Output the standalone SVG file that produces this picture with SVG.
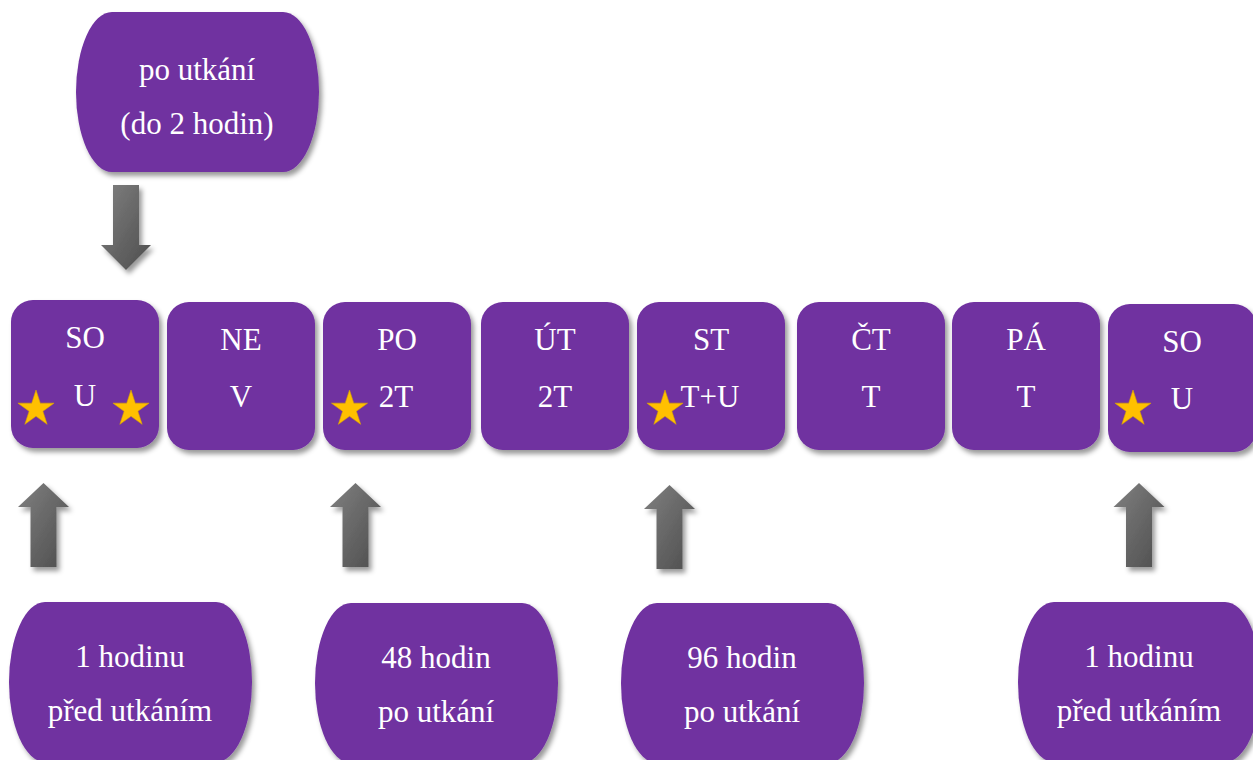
<svg xmlns="http://www.w3.org/2000/svg" xmlns:xlink="http://www.w3.org/1999/xlink" width="1253" height="760" viewBox="0 0 1253 760">
  <defs>
    <filter id="shadow" x="-20%" y="-20%" width="150%" height="150%">
      <feDropShadow dx="3" dy="4" stdDeviation="2.5" flood-color="#000" flood-opacity="0.4"/>
    </filter>
    <linearGradient id="arrowGrad" x1="0" y1="0" x2="1" y2="1">
      <stop offset="0" stop-color="#808080"/>
      <stop offset="1" stop-color="#4d4d4d"/>
    </linearGradient>
    <path id="star" d="M0,-19 L4.27,-5.87 L18.07,-5.87 L6.9,2.24 L11.17,15.37 L0,7.26 L-11.17,15.37 L-6.9,2.24 L-18.07,-5.87 L-4.27,-5.87 Z"/>
    <path id="pill" d="M36,0 H207 A36,80 0 0 1 207,160 H36 A36,80 0 0 1 36,0 Z"/>
    <path id="upArrow" d="M0,0 L25.5,24 L13,24 L13,84 L-13,84 L-13,24 L-25.5,24 Z"/>
  </defs>
  <style>
    .box { fill: #7030A0; filter: url(#shadow); }
    .txt { font-family: 'Liberation Serif', 'DejaVu Serif', serif; font-size: 31px; fill: #ffffff; text-anchor: middle; }
    .star { fill: #FFC000; stroke: #D9A300; stroke-width: 0.6; }
    .arrow { fill: url(#arrowGrad); filter: url(#shadow); }
  </style>

  <g id="connectors">
    <path class="arrow" d="M113,185 H139 V245 H151 L126,270 L101,245 H113 Z"/>
    <use href="#upArrow" class="arrow" x="43.5" y="483"/>
    <use href="#upArrow" class="arrow" x="355.5" y="483"/>
    <use href="#upArrow" class="arrow" x="669.5" y="485"/>
    <use href="#upArrow" class="arrow" x="1139" y="483"/>
  </g>

  <g id="note-top">
    <use href="#pill" class="box" x="76" y="12"/>
    <text class="txt" x="197" y="80">po utkání</text>
    <text class="txt" x="197" y="134">(do 2 hodin)</text>
  </g>

  <g id="day-so1">
    <rect class="box" x="11" y="300" width="148" height="148" rx="22"/>
    <text class="txt" x="85" y="348">SO</text>
    <text class="txt" x="85" y="406">U</text>
    <use href="#star" class="star" x="36" y="409"/>
    <use href="#star" class="star" x="131" y="409"/>
  </g>
  <g id="day-ne">
    <rect class="box" x="167" y="302" width="148" height="148" rx="22"/>
    <text class="txt" x="241" y="350">NE</text>
    <text class="txt" x="241" y="407">V</text>
  </g>
  <g id="day-po">
    <rect class="box" x="323" y="302" width="148" height="148" rx="22"/>
    <text class="txt" x="397" y="350">PO</text>
    <text class="txt" x="396" y="407">2T</text>
    <use href="#star" class="star" x="349.5" y="409"/>
  </g>
  <g id="day-ut">
    <rect class="box" x="481" y="302" width="148" height="148" rx="22"/>
    <text class="txt" x="555" y="350">ÚT</text>
    <text class="txt" x="555" y="407">2T</text>
  </g>
  <g id="day-st">
    <rect class="box" x="637" y="302" width="148" height="148" rx="22"/>
    <text class="txt" x="711" y="350">ST</text>
    <text class="txt" x="710" y="407">T+U</text>
    <use href="#star" class="star" x="665" y="409"/>
  </g>
  <g id="day-ct">
    <rect class="box" x="797" y="302" width="148" height="148" rx="22"/>
    <text class="txt" x="871" y="350">ČT</text>
    <text class="txt" x="871" y="407">T</text>
  </g>
  <g id="day-pa">
    <rect class="box" x="952" y="302" width="148" height="148" rx="22"/>
    <text class="txt" x="1026" y="350">PÁ</text>
    <text class="txt" x="1026" y="407">T</text>
  </g>
  <g id="day-so2">
    <rect class="box" x="1108" y="304" width="148" height="148" rx="22"/>
    <text class="txt" x="1182" y="352">SO</text>
    <text class="txt" x="1182" y="409">U</text>
    <use href="#star" class="star" x="1133" y="409"/>
  </g>

  <g id="note-1h-a">
    <use href="#pill" class="box" x="9" y="602"/>
    <text class="txt" x="130" y="667">1 hodinu</text>
    <text class="txt" x="130" y="721">před utkáním</text>
  </g>
  <g id="note-48h">
    <use href="#pill" class="box" x="315" y="603"/>
    <text class="txt" x="436" y="668">48 hodin</text>
    <text class="txt" x="436" y="722">po utkání</text>
  </g>
  <g id="note-96h">
    <use href="#pill" class="box" x="621" y="603"/>
    <text class="txt" x="742" y="668">96 hodin</text>
    <text class="txt" x="742" y="722">po utkání</text>
  </g>
  <g id="note-1h-b">
    <use href="#pill" class="box" x="1018" y="602"/>
    <text class="txt" x="1139" y="667">1 hodinu</text>
    <text class="txt" x="1139" y="721">před utkáním</text>
  </g>
</svg>
